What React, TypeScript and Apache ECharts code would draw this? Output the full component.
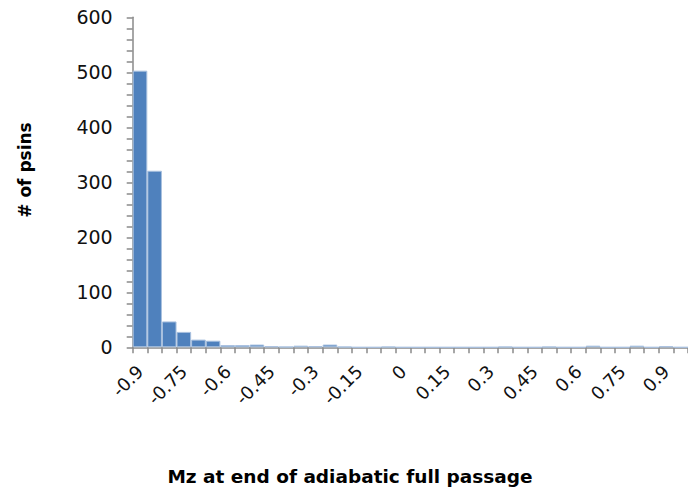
import React, { useEffect, useRef } from "react";
import * as echarts from "echarts";

// Histogram bins (bin width 0.05) and their counts
const binLabels: string[] = [
  "-0.9", "-0.85", "-0.8", "-0.75", "-0.7", "-0.65", "-0.6", "-0.55", "-0.5", "-0.45",
  "-0.4", "-0.35", "-0.3", "-0.25", "-0.2", "-0.15", "-0.1", "-0.05", "0", "0.05",
  "0.1", "0.15", "0.2", "0.25", "0.3", "0.35", "0.4", "0.45", "0.5", "0.55",
  "0.6", "0.65", "0.7", "0.75", "0.8", "0.85", "0.9", "0.95",
];
const counts: number[] = [
  503, 321, 47, 28, 14, 12, 4, 4, 5, 2,
  1, 3, 2, 5, 1, 0, 0, 1, 0, 0,
  0, 0, 0, 0, 0, 1, 0, 0, 1, 0,
  0, 3, 0, 0, 3, 0, 2, 0,
];
const yTicks = { min: 0, max: 600, interval: 100 };
const xTitle = "Mz at end of adiabatic full passage";
const yTitle = "# of psins";

const FONT = "DejaVu Sans";
const AXIS = "#8a8a8a";

export default function App() {
  const ref = useRef<HTMLDivElement>(null);

  useEffect(() => {
    if (!ref.current) return;
    const chart = echarts.init(ref.current, undefined, { renderer: "svg" });
    chart.setOption({
      animation: false,
      backgroundColor: "#ffffff",
      grid: { left: 132.7, top: 17.3, bottom: 141.7, right: -5.2, containLabel: false },
      xAxis: {
        type: "category",
        data: binLabels,
        boundaryGap: true,
        axisLine: { lineStyle: { color: AXIS, width: 1.5 } },
        axisTick: { show: true, length: 6, interval: 0, lineStyle: { color: AXIS, width: 1.5 } },
        axisLabel: {
          interval: 2,
          rotate: 45,
          margin: 21,
          fontFamily: FONT,
          fontSize: 18,
          color: "#111",
        },
        splitLine: { show: false },
      },
      yAxis: {
        type: "value",
        min: yTicks.min,
        max: yTicks.max,
        interval: yTicks.interval,
        axisLine: { show: true, lineStyle: { color: AXIS, width: 1.5 } },
        axisTick: { show: true, length: 6, lineStyle: { color: AXIS, width: 1.5 } },
        minorTick: { show: true, splitNumber: 5, length: 6, lineStyle: { color: AXIS, width: 1.5 } },
        axisLabel: { margin: 20, fontFamily: FONT, fontSize: 19, color: "#111" },
        splitLine: { show: false },
      },
      series: [
        {
          type: "bar",
          data: counts,
          barCategoryGap: "0%",
          itemStyle: { color: "#4f81bd", borderColor: "#a9c1df", borderWidth: 1 },
        },
      ],
      graphic: [
        {
          type: "text",
          x: 350,
          y: 476,
          style: {
            text: xTitle,
            fontFamily: FONT,
            fontWeight: "bold",
            fontSize: 18.5,
            fill: "#000",
            align: "center",
            verticalAlign: "middle",
          },
        },
        {
          type: "text",
          x: 25,
          y: 170,
          rotation: Math.PI / 2,
          style: {
            text: yTitle,
            fontFamily: FONT,
            fontWeight: "bold",
            fontSize: 17,
            fill: "#000",
            align: "center",
            verticalAlign: "middle",
          },
        },
      ],
    });
    return () => chart.dispose();
  }, []);

  return (
    <div
      ref={ref}
      style={{ position: "fixed", left: 0, top: 0, width: 688, height: 489, background: "#fff" }}
    />
  );
}
